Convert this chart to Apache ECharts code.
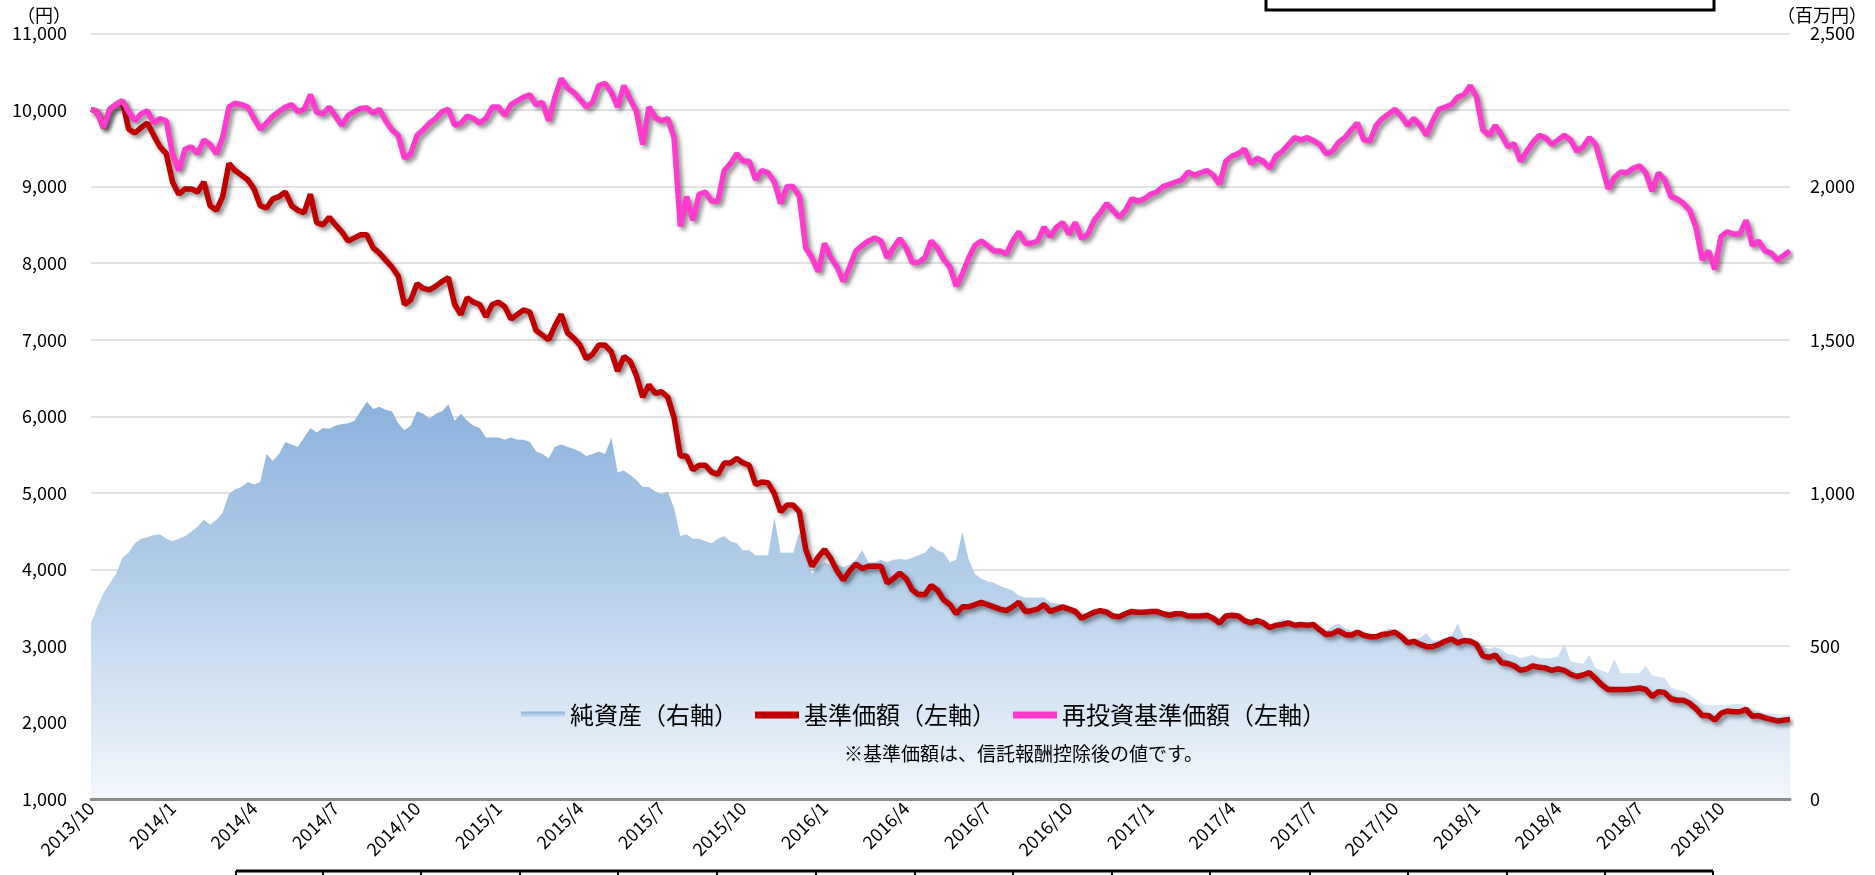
<!DOCTYPE html>
<html>
<head>
<meta charset="utf-8">
<script src="https://cdn.jsdelivr.net/npm/echarts@6/dist/echarts.min.js"></script>
<style>
  html, body { margin: 0; padding: 0; background: #fff; }
  #chart { width: 1875px; height: 875px; }
</style>
</head>
<body>
<div id="chart"></div>
<script>
// Quarterly tick labels (one every 13 weekly points)
const tickLabels = ['2013/10','2014/1','2014/4','2014/7','2014/10','2015/1','2015/4','2015/7','2015/10',
  '2016/1','2016/4','2016/7','2016/10','2017/1','2017/4','2017/7','2017/10','2018/1','2018/4','2018/7','2018/10'];

// 純資産 (百万円, right axis), weekly
const netAssets = [
  573,627,673,704,735,788,804,835,850,855,861,865,850,842,850,858,873,889,912,896,
  912,935,996,1012,1019,1035,1027,1035,1127,1104,1127,1166,1158,1150,1181,1212,1197,1212,1209,1220,
  1224,1227,1235,1266,1297,1274,1281,1271,1266,1227,1204,1220,1266,1258,1243,1258,1266,1289,1235,1258,
  1235,1220,1212,1181,1181,1181,1173,1181,1173,1173,1166,1135,1127,1112,1150,1158,1150,1143,1135,1120,
  1127,1135,1127,1181,1066,1073,1058,1042,1019,1019,1004,996,1004,950,858,865,850,850,842,835,
  850,858,842,835,812,812,796,796,796,919,804,804,804,873,796,735,758,773,765,765,
  758,765,781,812,773,773,781,773,781,784,781,788,796,804,827,812,804,773,781,873,
  781,735,719,711,707,696,688,681,665,658,658,658,658,642,639,634,627,619,604,608,
  614,614,611,604,599,604,611,611,611,611,611,608,604,604,604,599,599,599,599,588,
  573,596,599,596,588,588,584,578,568,573,588,584,573,573,573,573,557,547,565,573,
  557,550,550,542,537,537,547,557,553,534,519,522,527,542,516,519,527,534,573,527,
  527,516,496,491,496,488,473,470,460,465,470,460,460,460,465,507,450,445,442,470,
  427,419,411,457,411,411,411,411,434,403,399,396,365,357,353,342,326,311,306,306,
  306,306,311,311,306,291,288,280,280,276,276,276
];

// 基準価額 (円, left axis), weekly
const navPrice = [
  10010,9980,9770,10010,10070,10120,9750,9700,9770,9830,9670,9520,9430,9060,8900,8970,8970,8930,9060,8750,
  8690,8870,9300,9210,9150,9090,8970,8750,8720,8840,8870,8930,8750,8690,8660,8900,8530,8500,8600,8500,
  8410,8290,8330,8370,8370,8200,8130,8040,7950,7830,7460,7520,7730,7670,7650,7700,7760,7810,7460,7330,
  7550,7490,7460,7300,7460,7490,7430,7270,7330,7390,7360,7120,7060,7000,7180,7330,7090,7020,6930,6750,
  6810,6930,6930,6840,6590,6780,6720,6530,6250,6410,6300,6320,6250,5980,5480,5480,5300,5360,5360,5270,
  5240,5390,5390,5450,5390,5360,5110,5140,5130,4990,4750,4840,4840,4750,4260,4040,4160,4260,4140,3980,
  3860,3980,4070,4010,4040,4040,4040,3820,3880,3950,3880,3730,3670,3670,3790,3730,3600,3540,3420,3510,
  3510,3540,3570,3540,3510,3480,3460,3510,3570,3450,3460,3480,3540,3450,3480,3510,3480,3450,3360,3400,
  3440,3460,3440,3390,3380,3420,3450,3440,3440,3450,3450,3420,3400,3420,3420,3390,3390,3390,3400,3360,
  3300,3390,3400,3390,3330,3300,3330,3300,3240,3270,3280,3300,3270,3280,3270,3280,3210,3150,3160,3200,
  3150,3140,3180,3140,3120,3120,3150,3160,3180,3120,3040,3060,3020,2990,2990,3020,3060,3090,3040,3070,
  3060,3020,2870,2850,2880,2780,2770,2740,2680,2700,2740,2720,2710,2680,2700,2680,2630,2600,2620,2650,
  2570,2490,2430,2430,2430,2430,2440,2450,2430,2340,2400,2390,2310,2290,2290,2250,2180,2090,2090,2030,
  2120,2150,2140,2140,2170,2080,2090,2060,2040,2020,2030,2040
];

// 再投資基準価額 (円, left axis), weekly
const reinvestPrice = [
  10010,9980,9770,10010,10070,10120,9980,9860,9950,9990,9830,9890,9860,9430,9210,9490,9520,9430,9610,9550,
  9430,9640,10040,10090,10070,10040,9890,9750,9830,9920,9980,10040,10070,9980,10010,10200,9970,9950,10040,9920,
  9800,9930,9980,10020,10030,9960,10010,9860,9740,9670,9370,9430,9670,9740,9830,9890,9980,10010,9800,9830,
  9920,9890,9830,9890,10040,10040,9930,10070,10120,10170,10200,10070,10100,9860,10170,10410,10290,10230,10140,10040,
  10100,10320,10350,10230,10040,10320,10140,9980,9550,10040,9900,9860,9890,9640,8480,8870,8560,8900,8930,8810,
  8810,9210,9300,9430,9330,9330,9090,9210,9180,9060,8780,9000,9000,8870,8200,8070,7890,8260,8070,7950,
  7760,7950,8160,8230,8290,8330,8290,8070,8200,8320,8200,8010,8010,8070,8290,8200,8050,7950,7700,7860,
  8070,8230,8290,8230,8160,8160,8120,8290,8410,8260,8260,8290,8470,8350,8470,8530,8380,8530,8320,8380,
  8560,8660,8780,8690,8600,8690,8840,8810,8840,8900,8930,9000,9030,9060,9090,9190,9150,9180,9210,9150,
  9030,9330,9400,9430,9490,9300,9370,9330,9240,9400,9460,9550,9640,9610,9640,9600,9550,9430,9460,9580,
  9640,9740,9830,9610,9600,9800,9890,9950,10010,9920,9800,9890,9800,9670,9860,10010,10040,10070,10170,10200,
  10320,10170,9740,9670,9800,9670,9520,9560,9330,9460,9580,9670,9640,9550,9610,9670,9610,9460,9520,9640,
  9550,9270,8970,9120,9190,9180,9240,9270,9180,8940,9180,9090,8870,8840,8780,8690,8470,8040,8160,7920,
  8350,8410,8380,8380,8560,8230,8290,8160,8130,8040,8100,8160
];

// Weekly dates from 2013/10/1
const categories = netAssets.map((_, i) => {
  const d = new Date(2013, 9, 1 + 7 * i);
  return d.getFullYear() + '/' + (d.getMonth() + 1) + '/' + d.getDate();
});

const FONT = "'Noto Sans CJK JP', 'Noto Sans', sans-serif";
const fmt = v => v.toLocaleString('en-US');

const areaFill = new echarts.graphic.LinearGradient(0, 0, 0, 1, [
  { offset: 0, color: '#8AB2DC' },
  { offset: 0.45, color: '#B5CFEA' },
  { offset: 1, color: '#F3F7FC' }
]);
const legendFill = new echarts.graphic.LinearGradient(0, 0, 0, 1, [
  { offset: 0, color: '#8AB2DC' },
  { offset: 1, color: '#E6EFF9' }
]);

const lineShadow = { shadowColor: 'rgba(0,0,0,0.45)', shadowBlur: 4, shadowOffsetX: 3, shadowOffsetY: 3 };

// Column edges of the table frame below the chart
const tableEdges = [236, 323, 421, 520, 618, 717, 816, 915, 1013, 1112, 1210, 1310, 1408, 1507, 1605, 1713];

const chart = echarts.init(document.getElementById('chart'));
chart.setOption({
  animation: false,
  backgroundColor: '#fff',
  textStyle: { fontFamily: FONT },
  grid: { left: 91, right: 85, top: 33.5, bottom: 76 },
  legend: {
    left: 516, top: 698,
    itemWidth: 44, itemHeight: 7, itemGap: 17,
    textStyle: { fontSize: 24, color: '#000', fontFamily: FONT },
    data: [
      { name: '純資産（右軸）', icon: 'rect', itemStyle: { color: legendFill } },
      { name: '基準価額（左軸）', icon: 'rect' },
      { name: '再投資基準価額（左軸）', icon: 'rect' }
    ]
  },
  xAxis: {
    type: 'category',
    data: categories,
    boundaryGap: false,
    z: 5,
    axisLine: { lineStyle: { color: '#8c8c8c', width: 3 } },
    axisTick: { show: false },
    splitLine: { show: false },
    axisLabel: {
      interval: (i) => i % 13 === 0,
      formatter: (v, i) => tickLabels[i / 13],
      rotate: 45, fontSize: 18, color: '#000', margin: 6, fontFamily: FONT
    }
  },
  yAxis: [
    {
      type: 'value', position: 'left', min: 1000, max: 11000, interval: 1000,
      name: '（円）', nameLocation: 'end', nameGap: 8,
      nameTextStyle: { fontSize: 18, color: '#000', align: 'center', padding: [0, 94, 0, 0], fontFamily: FONT },
      axisLine: { show: false }, axisTick: { show: false },
      splitLine: { lineStyle: { color: '#d9d9d9', width: 1.5 } },
      axisLabel: { fontSize: 18, color: '#000', margin: 24, formatter: fmt, fontFamily: FONT }
    },
    {
      type: 'value', position: 'right', min: 0, max: 2500, interval: 500,
      name: '（百万円）', nameLocation: 'end', nameGap: 8,
      nameTextStyle: { fontSize: 18, color: '#000', align: 'center', padding: [0, 0, 0, 64], fontFamily: FONT },
      axisLine: { show: false }, axisTick: { show: false },
      splitLine: { show: false },
      axisLabel: { fontSize: 18, color: '#000', margin: 20, formatter: fmt, fontFamily: FONT }
    }
  ],
  series: [
    {
      name: '純資産（右軸）', type: 'line', yAxisIndex: 1, data: netAssets,
      symbol: 'none', color: '#8AB2DC', z: 1,
      lineStyle: { opacity: 0, width: 0 },
      areaStyle: { color: areaFill, opacity: 1 }
    },
    {
      name: '基準価額（左軸）', type: 'line', yAxisIndex: 0, data: navPrice,
      symbol: 'none', color: '#C00000', z: 3,
      lineStyle: Object.assign({ color: '#C00000', width: 5.5 }, lineShadow)
    },
    {
      name: '再投資基準価額（左軸）', type: 'line', yAxisIndex: 0, data: reinvestPrice,
      symbol: 'none', color: '#FF3BCE', z: 4,
      lineStyle: Object.assign({ color: '#FF3BCE', width: 5.5 }, lineShadow)
    }
  ],
  graphic: [
    {
      type: 'text', left: 844, top: 744, z: 10,
      style: { text: '※基準価額は、信託報酬控除後の値です。', font: '19px ' + FONT, fill: '#000' }
    },
    {
      type: 'rect', z: 10,
      shape: { x: 1266, y: -20, width: 448, height: 30 },
      style: { fill: 'none', stroke: '#000', lineWidth: 3 }
    },
    {
      type: 'line', z: 10,
      shape: { x1: 236, y1: 871, x2: 1713, y2: 871 },
      style: { stroke: '#000', lineWidth: 3 }
    }
  ].concat(tableEdges.map(x => ({
    type: 'line', z: 10,
    shape: { x1: x, y1: 871, x2: x, y2: 880 },
    style: { stroke: '#000', lineWidth: 2 }
  })))
});
</script>
</body>
</html>
